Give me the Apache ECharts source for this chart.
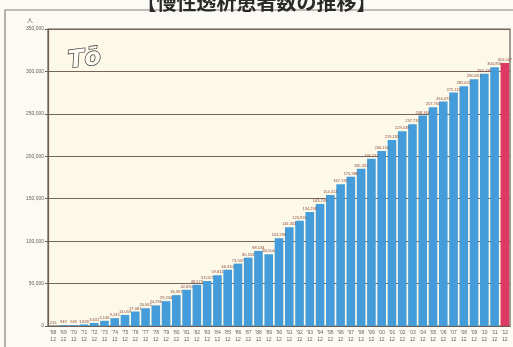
<!DOCTYPE html>
<html>
<head>
<meta charset="utf-8">
<script src="https://cdn.jsdelivr.net/npm/echarts@6/dist/echarts.min.js"></script>
<style>
  html, body { margin: 0; padding: 0; background: #fbfaf4; }
  #chart { width: 513px; height: 347px; }
</style>
</head>
<body>
<div id="chart"></div>
<script>
// Year-end counts of chronic dialysis patients, 1968–2012
const years = ["'68","'69","'70","'71","'72","'73","'74","'75","'76","'77","'78","'79",
  "'80","'81","'82","'83","'84","'85","'86","'87","'88","'89","'90","'91","'92","'93",
  "'94","'95","'96","'97","'98","'99","'00","'01","'02","'03","'04","'05","'06","'07",
  "'08","'09","'10","'11","'12"];
const months = ["12","12","12","12","12","12","12","12","12","12","12","12",
  "12","12","12","12","12","12","12","12","12","12","12","12","12","12",
  "12","12","12","12","12","12","12","12","12","12","12","12","12","12",
  "12","12","12","12","12"];
const patients = [215, 949, 949, 1826, 3631, 6148, 9245, 13059, 17081, 20962, 24296, 29234,
  36397, 42690, 48573, 53017, 59811, 66310, 73537, 80553, 88534, 84500, 103296, 116303,
  123926, 134298, 143709, 154413, 167192, 175988, 185322, 197213, 206134, 219183,
  229538, 237710, 248166, 257765, 264473, 275119, 282622, 290661, 297126, 304856, 310007];
const yTicks = [0, 50000, 100000, 150000, 200000, 250000, 300000, 350000];

const chart = echarts.init(document.getElementById('chart'), null, { renderer: 'canvas' });
const lastIdx = patients.length - 1;

chart.setOption({
  animation: false,
  backgroundColor: '#fbfaf4',
  title: {
    text: '【慢性透析患者数の推移】',
    left: 'center',
    top: -13,
    textStyle: { fontFamily: 'Noto Sans CJK JP', fontSize: 20, fontWeight: 'bold', color: '#2a2a2a' }
  },
  graphic: [
    // outer frame
    { type: 'rect', shape: { x: 5, y: 10, width: 520, height: 360 },
      style: { fill: 'none', stroke: '#8a7f7a', lineWidth: 1.2 }, z: 0 },
    // unit mark above the axis
    { type: 'text', left: 27, top: 17,
      style: { text: '人', fontSize: 6, fill: '#6a6060', fontFamily: 'Noto Sans CJK JP' } },
    // logo
    { type: 'text', left: 66, top: 45, rotation: 0.12,
      style: { text: 'Tō', fontSize: 24, fontWeight: 'bold', fontStyle: 'italic',
        fontFamily: 'DejaVu Sans', fill: '#fffdf6', stroke: '#3a3230', lineWidth: 1.4 }, z: 10 }
  ],
  grid: { left: 48, right: 3, top: 29, bottom: 21, show: true,
    backgroundColor: '#fdf9e8', borderColor: '#6d5d55', borderWidth: 1.2 },
  xAxis: {
    type: 'category',
    data: years.map((y, i) => y + '\n' + months[i]),
    axisLine: { lineStyle: { color: '#6d5d55', width: 1.2 } },
    axisTick: { show: false },
    axisLabel: { interval: 0, fontSize: 5, lineHeight: 7, color: '#6a5e5e', margin: 3,
      fontFamily: 'Liberation Sans' }
  },
  yAxis: {
    type: 'value',
    min: yTicks[0],
    max: yTicks[yTicks.length - 1],
    interval: yTicks[1] - yTicks[0],
    axisLine: { show: true, lineStyle: { color: '#6d5d55', width: 1.2 } },
    axisTick: { show: true, length: 3, lineStyle: { color: '#6d5d55' } },
    axisLabel: { fontSize: 5, color: '#6a6060', margin: 4, fontFamily: 'Liberation Sans',
      formatter: v => v.toLocaleString('en-US') },
    splitLine: { lineStyle: { color: '#75655c', width: 1.2 } }
  },
  series: [{
    type: 'bar',
    data: patients.map((v, i) => ({
      value: v,
      itemStyle: { color: i === lastIdx ? '#dc3a62' : '#449dda' }
    })),
    barCategoryGap: '16%',
    label: {
      show: true, position: 'top', distance: 1, fontSize: 4, color: '#8a4a3e',
      fontFamily: 'Liberation Sans',
      formatter: p => p.value.toLocaleString('en-US')
    }
  }]
});
</script>
</body>
</html>
